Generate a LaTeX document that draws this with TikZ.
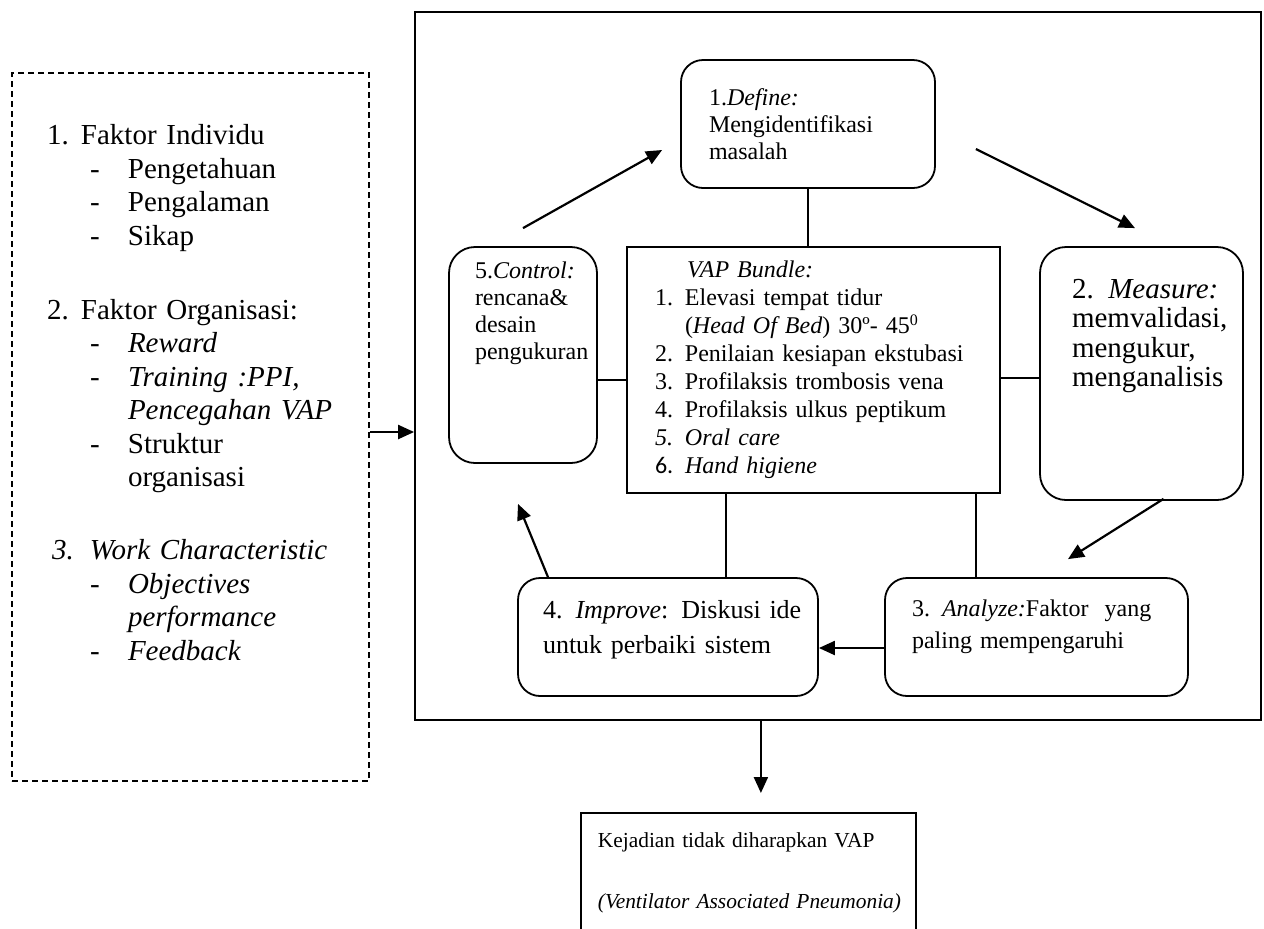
\documentclass[tikz,border=0pt]{standalone}
\usepackage{fontspec}
\setmainfont{Liberation Serif}
\newfontfamily\calfont{Carlito}
\usetikzlibrary{positioning,arrows.meta}

\newcommand{\fnum}[2]{\makebox[17pt][l]{#1}#2}
\newcommand{\fsub}[1]{\hspace*{21.5pt}\makebox[19pt][l]{-}#1}
\newcommand{\fcont}[1]{\hspace*{40.5pt}#1}
\newcommand{\vnum}[2]{\makebox[15pt][l]{#1}#2}

\begin{document}
\begin{tikzpicture}[x=0.5pt, y=-0.5pt, >={Triangle[length=8pt,width=7pt]},
                sqbox/.style={draw, line width=0.9pt, align=left},
                box/.style={sqbox, rounded corners=11pt},
                arr/.style={->, line width=1.1pt},
                link/.style={line width=0.8pt}]

      \useasboundingbox (0,0) rectangle (1264,928);
      \clip (0,0) rectangle (1264,928);

      % left: faktor
      \node[sqbox, dash pattern=on 3pt off 2pt, minimum width=178.5pt, minimum height=354pt,
            text width=143.5pt, font=\fontsize{14.5}{16.75}\selectfont] (factors) at (190.5,427) {%
        \fnum{1.}{Faktor Individu}\\
        \fsub{Pengetahuan}\\
        \fsub{Pengalaman}\\
        \fsub{Sikap}\\[20.25pt]
        \fnum{2.}{Faktor Organisasi:}\\
        \fsub{\textit{Reward}}\\
        \fsub{\textit{Training :PPI,}}\\
        \fcont{\textit{Pencegahan VAP}}\\
        \fsub{Struktur}\\
        \fcont{organisasi}\\[19.75pt]
        \hspace*{2.5pt}\makebox[19pt][l]{\textit{3.}}\mbox{\textit{Work Characteristic}}\\
        \fsub{\textit{Objectives}}\\
        \fcont{\textit{performance}}\\
        \fsub{\textit{Feedback}}\\[17.75pt]\mbox{}};

      % DMAIC frame
      \node[sqbox, minimum width=423pt, minimum height=354pt] (dmaic) at (838,366) {};

      \node[box, minimum width=127pt, minimum height=64pt, text width=99pt,
            font=\fontsize{12}{13.5}\selectfont] (define) at (808,124)
            {1.\textit{Define:}\\Mengidentifikasi\\masalah};
      \node[box, rounded corners=13pt, minimum width=74pt, minimum height=108pt, text width=48pt,
            font=\fontsize{12}{13.5}\selectfont] (control) at (523,355)
            {\mbox{5.\textit{Control:}}\\rencana\&\\desain\\\mbox{pengukuran}\\[30.5pt]\mbox{}};
      \node[sqbox, minimum width=186.5pt, minimum height=123pt, text width=158.5pt,
            font=\fontsize{12}{14}\selectfont] (vap) at (813.5,370) {%
        \hspace*{16pt}\textit{VAP Bundle:}\\
        \vnum{1.}{Elevasi tempat tidur}\\
        \hspace*{15pt}(\textit{Head Of Bed}) 30º- 45\textsuperscript{0}\\
        \vnum{2.}{\mbox{Penilaian kesiapan ekstubasi}}\\
        \vnum{3.}{Profilaksis trombosis vena}\\
        \vnum{4.}{Profilaksis ulkus peptikum}\\
        \vnum{\textit{5.}}{\textit{Oral care}}\\
        \vnum{\calfont 6.}{\textit{Hand higiene}}};
      \node[box, rounded corners=13pt, minimum width=101.5pt, minimum height=126.5pt, text width=69.5pt,
            font=\fontsize{14.5}{14.75}\selectfont] (measure) at (1141.5,373.5)
            {\mbox{2. \textit{Measure:}}\\\mbox{memvalidasi,}\\mengukur,\\\mbox{menganalisis}\\[25.75pt]\mbox{}};
      \node[box, minimum width=150pt, minimum height=59pt, text width=125pt,
            font=\fontsize{13}{17.5}\selectfont] (improve) at (668,637)
            {\mbox{4. \textit{Improve}: Diskusi ide}\\\mbox{untuk perbaiki sistem}\rule[-10pt]{0pt}{10pt}};
      \node[box, minimum width=151.5pt, minimum height=59pt, text width=124.5pt,
            font=\fontsize{12}{16}\selectfont] (analyze) at (1036.5,637)
            {\mbox{3. \textit{Analyze:}Faktor\ \ yang}\\\mbox{paling mempengaruhi}\rule[-12.6pt]{0pt}{12.6pt}};

      % outcome
      \node[sqbox, anchor=north west, minimum width=167.5pt, text width=150.5pt,
            inner xsep=8.5pt, inner ysep=10pt, font=\fontsize{10.7}{12.5}\selectfont] (output) at (580,812)
            {Kejadian tidak diharapkan VAP\\[18pt]\mbox{\textit{(Ventilator Associated Pneumonia)}}\\[20pt]\mbox{}};

      % plain links to the bundle
      \draw[link] (define.south) -- (define.south |- vap.north);
      \coordinate (cv) at ([shift={(0,25)}]control.east);
      \draw[link] (cv) -- (cv -| vap.west);
      \coordinate (vm) at ([shift={(0,8)}]vap.east);
      \draw[link] (vm) -- (vm -| measure.west);
      \coordinate (vi) at ([shift={(58,0)}]improve.north);
      \draw[link] (vi) -- (vi |- vap.south);
      \coordinate (va) at ([shift={(-60.5,0)}]analyze.north);
      \draw[link] (va) -- (va |- vap.south);

      % cycle arrows
      \draw[arr] ([shift={(0,-18)}]control.north) -- ([shift={(-18,26)}]define.west);
      \draw[arr] ([shift={(40,25)}]define.east) -- ([shift={(-6.5,-18)}]measure.north);
      \draw[arr] ([shift={(22,-2)}]measure.south) -- ([shift={(31.5,-18)}]analyze.north);
      \coordinate (ai) at ([shift={(0,11)}]analyze.west);
      \draw[arr] (ai) -- (ai -| improve.east);
      \draw[arr] ([shift={(-120,0)}]improve.north) -- ([shift={(-5,40)}]control.south);

      % in and out
      \coordinate (fd) at ([shift={(0,5)}]factors.east);
      \draw[arr] (fd) -- (fd -| dmaic.west);
      \coordinate (oc) at ([shift={(12.5,0)}]output.north);
      \draw[arr, shorten >=9.5pt] (oc |- dmaic.south) -- (oc);
  \end{tikzpicture}
\end{document}
